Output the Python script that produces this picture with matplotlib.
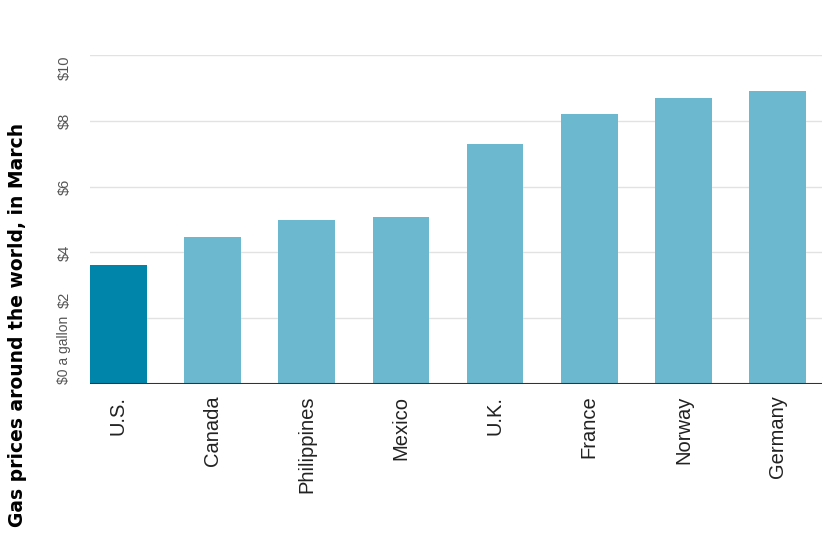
import matplotlib.pyplot as plt

countries = ['U.S.', 'Canada', 'Philippines', 'Mexico', 'U.K.', 'France', 'Norway', 'Germany']
prices = [3.63, 4.48, 4.99, 5.07, 7.29, 8.2, 8.69, 8.92]
tick_vals = [0, 2, 4, 6, 8, 10]
tick_text = ['$0 a gallon', '$2', '$4', '$6', '$8', '$10']

colors = ['#0085aa'] + ['#6cb8cf'] * 7

fig = plt.figure(figsize=(8.22, 5.39), dpi=100)
ax = fig.add_axes([90 / 822, 1 - 384 / 539, 732 / 822, 329 / 539])

x = range(len(countries))
ax.bar(x, prices, width=0.6, color=colors, zorder=2)
ax.set_xlim(-0.3, 7.47)
ax.set_ylim(0, 10)

for v in tick_vals[1:]:
    ax.axhline(v, color='#e2e2e2', lw=1, zorder=1)
ax.axhline(0, color='#333333', lw=1.5, zorder=3)

for v, t in zip(tick_vals, tick_text):
    va = 'bottom' if v <= 2 else ('top' if v == 10 else 'center')
    y = v + 0.3 if v == 2 else v
    ax.text(-0.035, y, t, transform=ax.get_yaxis_transform(), rotation=90,
            ha='center', va=va, fontsize=10.5 if v else 10, color='#555555',
            family='Liberation Sans')

for i, c in zip(x, countries):
    ax.text(i, -0.35, c, rotation=90, ha='center', va='top', fontsize=14.5,
            color='#222222', family='Liberation Sans')

ax.set_xticks([])
ax.set_yticks([])
for s in ax.spines.values():
    s.set_visible(False)

fig.text(18 / 822, 1 - 325 / 539, 'Gas prices around the world, in March', rotation=90,
         ha='center', va='center', fontsize=13.5, fontweight='bold')

fig.savefig('out.png', dpi=100)
